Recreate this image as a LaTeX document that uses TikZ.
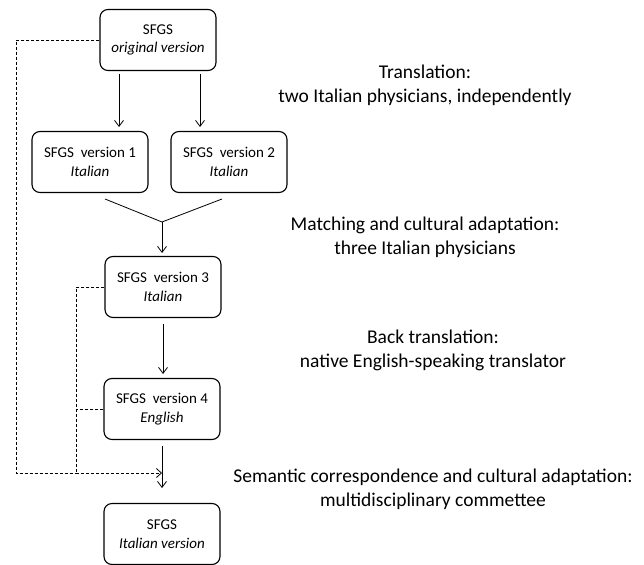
\documentclass[tikz,border=0pt]{standalone}
\usepackage{fontspec}
\setmainfont{Carlito}
\usetikzlibrary{arrows.meta}
\begin{document}
\begin{tikzpicture}[x=1pt,y=-1pt,
  box/.style={draw, rounded corners=8pt, line width=1.1pt, minimum width=116pt, minimum height=61pt, align=center, font=\fontsize{15}{18.5}\selectfont, inner sep=0pt},
  arr/.style={-{Straight Barb[length=6pt,width=9pt]}, line width=0.8pt},
  dashln/.style={dash pattern=on 3pt off 2pt, line width=0.8pt},
  lbl/.style={align=center, font=\fontsize{19.5}{24}\selectfont, inner sep=0pt}]
\useasboundingbox (0,0) rectangle (644,564);
\node[box] (top) at (158,40) {SFGS\\\textit{original version}};
\node[box] (v1) at (90,162) {SFGS\ \ version 1\\\textit{Italian}};
\node[box] (v2) at (229,162) {SFGS\ \ version 2\\\textit{Italian}};
\node[box] (v3) at (163,287) {SFGS\ \ version 3\\\textit{Italian}};
\node[box] (v4) at (162,409) {SFGS\ \ version 4\\\textit{English}};
\node[box] (fin) at (162,534) {SFGS\\\textit{Italian version}};
% arrows top -> v1, v2
\coordinate (a1s) at (119,74); \coordinate (a1e) at (119,127);
\coordinate (a2s) at (200,74); \coordinate (a2e) at (200,127);
\draw[arr] (a1s) -- (a1e);
\draw[arr] (a2s) -- (a2e);
% merge
\coordinate (m1) at (105,199); \coordinate (m2) at (222,199); \coordinate (mj) at (162,222);
\draw[line width=0.8pt] (m1) -- (mj) -- (m2);
\draw[arr] (mj) -- (162,253);
% v3 -> v4
\draw[arr] (163,324) -- (163,374);
% v4 -> fin
\coordinate (j) at (162,473);
\draw[arr] (162,446) -- (162,488);
% dashed feedback
\draw[dashln] (top.west) -- (16,40) -- (16,473) -- (76,473);
\draw[dashln] (v3.west) -- (76,287) -- (76,473);
\draw[dashln] (v4.west) -- (76,409);
\draw[dashln, -{Straight Barb[length=5pt,width=9pt]}] (76,473) -- (j);
% labels
\node[lbl] (l1) at (425,85) {Translation:\\two Italian physicians, independently};
\node[lbl] (l2) at (425,237) {Matching and cultural adaptation:\\three Italian physicians};
\node[lbl] (l3) at (433,350) {Back translation:\\native English-speaking translator};
\node[lbl] (l4) at (433,489) {Semantic correspondence and cultural adaptation:\\multidisciplinary commettee};
\end{tikzpicture}
\end{document}
